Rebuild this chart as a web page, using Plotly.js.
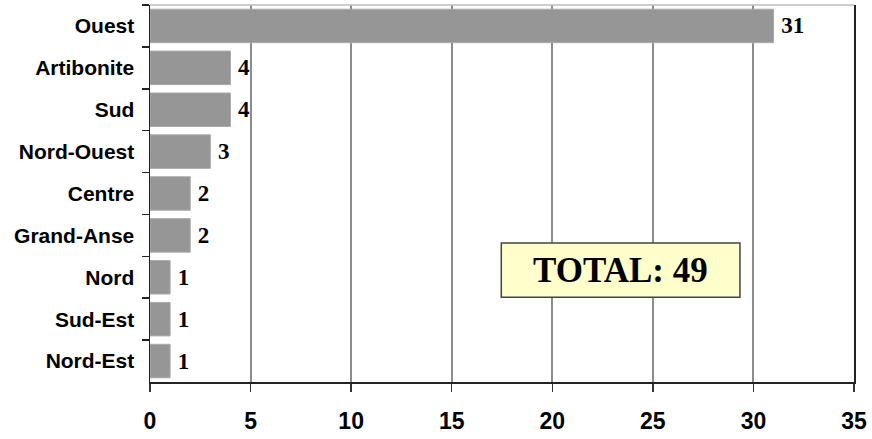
<!DOCTYPE html>
<html>
<head>
<meta charset="utf-8">
<script src="https://cdn.plot.ly/plotly-3.0.1.min.js"></script>
<style>
  html, body { margin: 0; padding: 0; background: #ffffff; }
  #chart { width: 872px; height: 439px; }
</style>
</head>
<body>
<div id="chart"></div>
<script>
// Departments, listed top to bottom
const departments = ['Ouest', 'Artibonite', 'Sud', 'Nord-Ouest', 'Centre', 'Grand-Anse', 'Nord', 'Sud-Est', 'Nord-Est'];
// Count per department
const counts = [31, 4, 4, 3, 2, 2, 1, 1, 1];
// X-axis ticks
const xTicks = [0, 5, 10, 15, 20, 25, 30, 35];

const total = counts.reduce((a, b) => a + b, 0);

const trace = {
  type: 'bar',
  orientation: 'h',
  y: departments,
  x: counts,
  // thin space keeps the value label a little off the bar end
  text: counts.map(v => '\u2009' + v),
  textposition: 'outside',
  cliponaxis: false,
  textfont: { family: 'Liberation Serif, Times New Roman, serif', size: 23, color: '#000000', weight: 'bold' },
  marker: { color: '#969696', line: { color: '#aaaaaa', width: 1 } },
  hoverinfo: 'none'
};

const layout = {
  width: 872,
  height: 439,
  margin: { l: 150, r: 18, t: 5, b: 57 },
  paper_bgcolor: '#ffffff',
  plot_bgcolor: '#ffffff',
  bargap: 0.2,
  showlegend: false,
  xaxis: {
    range: [0, 35],
    tickvals: xTicks,
    ticktext: xTicks.map(String),
    showgrid: true,
    gridcolor: '#8c8c8c',
    gridwidth: 2,
    zeroline: false,
    showline: true,
    linecolor: '#222222',
    linewidth: 1.5,
    ticks: 'outside',
    ticklen: 8,
    tickcolor: '#333333',
    tickwidth: 1.5,
    ticklabelstandoff: 10,
    tickfont: { family: 'Liberation Sans, Arial, sans-serif', size: 23, color: '#000000', weight: 'bold' },
    automargin: false,
    fixedrange: true
  },
  yaxis: {
    type: 'category',
    autorange: 'reversed',
    tickson: 'boundaries',
    ticks: 'outside',
    ticklen: 7,
    tickcolor: '#222222',
    tickwidth: 1.5,
    showgrid: false,
    showline: true,
    mirror: true,
    linecolor: '#222222',
    linewidth: 1.5,
    ticklabelstandoff: 10,
    tickfont: { family: 'Liberation Sans, Arial, sans-serif', size: 21, color: '#000000', weight: 'bold' },
    automargin: false,
    fixedrange: true
  },
  shapes: [
    // light top frame line
    { type: 'line', xref: 'paper', yref: 'paper', x0: 0, x1: 1, y0: 1, y1: 1,
      line: { color: '#bdbdbd', width: 1.5 } },
    // total box
    { type: 'rect', xref: 'paper', yref: 'paper', x0: 0.499, x1: 0.838, y0: 0.225, y1: 0.369,
      fillcolor: '#ffffcc', line: { color: '#444444', width: 1.5 } }
  ],
  annotations: [
    { xref: 'paper', yref: 'paper', x: 0.6685, y: 0.297, xanchor: 'center', yanchor: 'middle',
      showarrow: false,
      text: 'TOTAL: ' + total,
      font: { family: 'Liberation Serif, Times New Roman, serif', size: 35, color: '#000000', weight: 'bold' } }
  ]
};

Plotly.newPlot('chart', [trace], layout, { staticPlot: true, displayModeBar: false });
</script>
</body>
</html>
